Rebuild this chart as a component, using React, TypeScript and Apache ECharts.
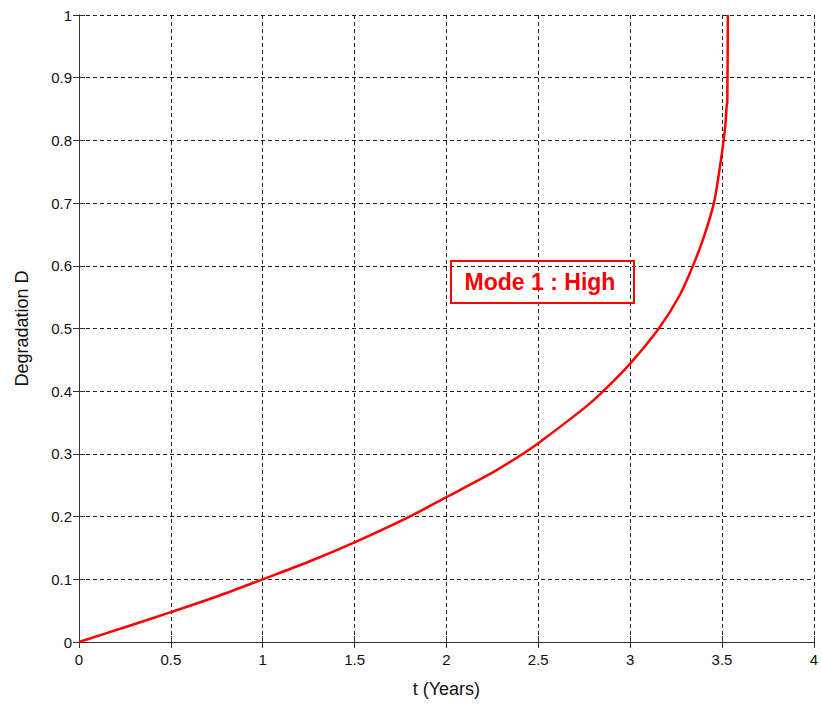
import React, { useEffect, useRef } from "react";
import * as echarts from "echarts";

const tValues = [0, 0.25, 0.5, 0.75, 1.0, 1.25, 1.5, 1.8, 2.0, 2.25, 2.4, 2.5, 2.75, 2.85, 3.0, 3.156, 3.27, 3.342, 3.4, 3.456, 3.49, 3.509, 3.52, 3.526, 3.529, 3.532];
const dValues = [0, 0.0236, 0.0476, 0.0726, 0.1, 0.128, 0.159, 0.2, 0.231, 0.27, 0.297, 0.317, 0.373, 0.399, 0.444, 0.5, 0.553, 0.6, 0.645, 0.7, 0.76, 0.8, 0.83, 0.857, 0.86, 1.0];
const xTicks = [0, 0.5, 1, 1.5, 2, 2.5, 3, 3.5, 4];
const yTicks = [0, 0.1, 0.2, 0.3, 0.4, 0.5, 0.6, 0.7, 0.8, 0.9, 1];
const annotationText = "Mode 1 : High";

const FONT = "'Liberation Sans', Arial, sans-serif";

export default function App() {
  const ref = useRef<HTMLDivElement>(null);
  useEffect(() => {
    if (!ref.current) return;
    const chart = echarts.init(ref.current, null, { renderer: "svg" });
    const data = tValues.map((t, i) => [t, dValues[i]]);
    const axisLine = { show: true, lineStyle: { color: "#333", width: 1 } };
    const axisTick = { show: true, inside: true, length: 6, lineStyle: { color: "#333", width: 1 } };
    const splitLine = { show: true, lineStyle: { color: "#222", width: 1, type: [4, 3] as any } };
    const labelStyle = { color: "#111", fontSize: 15, fontFamily: FONT };
    chart.setOption({
      animation: false,
      backgroundColor: "#fff",
      grid: { left: 79, top: 15, right: 6, bottom: 62, containLabel: false },
      xAxis: [
        {
          type: "value",
          min: 0,
          max: 4,
          interval: 0.5,
          position: "bottom",
          name: "t (Years)",
          nameLocation: "middle",
          nameGap: 38,
          nameTextStyle: { color: "#111", fontSize: 18, fontFamily: FONT },
          axisLine,
          axisTick,
          splitLine,
          axisLabel: { ...labelStyle, margin: 10, formatter: (v: number) => (xTicks.includes(v) ? String(v) : "") },
        },
        {
          type: "value",
          min: 0,
          max: 4,
          interval: 0.5,
          position: "top",
          axisLine,
          axisTick,
          splitLine: { show: false },
          axisLabel: { show: false },
        },
      ],
      yAxis: [
        {
          type: "value",
          min: 0,
          max: 1,
          interval: 0.1,
          position: "left",
          name: "Degradation D",
          nameLocation: "middle",
          nameGap: 48,
          nameTextStyle: { color: "#111", fontSize: 18, fontFamily: FONT },
          axisLine,
          axisTick,
          splitLine,
          axisLabel: {
            ...labelStyle,
            margin: 7,
            formatter: (v: number) => {
              const r = Math.round(v * 10) / 10;
              return yTicks.includes(r) ? String(r) : "";
            },
          },
        },
        {
          type: "value",
          min: 0,
          max: 1,
          interval: 0.1,
          position: "right",
          axisLine,
          axisTick,
          splitLine: { show: false },
          axisLabel: { show: false },
        },
      ],
      series: [
        {
          type: "line",
          data,
          smooth: 0.3,
          showSymbol: false,
          lineStyle: { color: "#ff0000", width: 2.5 },
          clip: true,
          z: 5,
        },
      ],
      graphic: [
        {
          type: "rect",
          shape: { x: 451, y: 261, width: 183, height: 42 },
          style: { fill: "transparent", stroke: "#ff0000", lineWidth: 2 },
          z: 10,
        },
        {
          type: "text",
          x: 540,
          y: 282,
          style: {
            text: annotationText,
            fill: "#ff0000",
            font: `bold 23px ${FONT}`,
            align: "center",
            verticalAlign: "middle",
          },
          z: 10,
        },
      ],
    });
    return () => chart.dispose();
  }, []);
  return <div ref={ref} style={{ width: 821, height: 704, position: "absolute", left: 0, top: 0 }} />;
}
